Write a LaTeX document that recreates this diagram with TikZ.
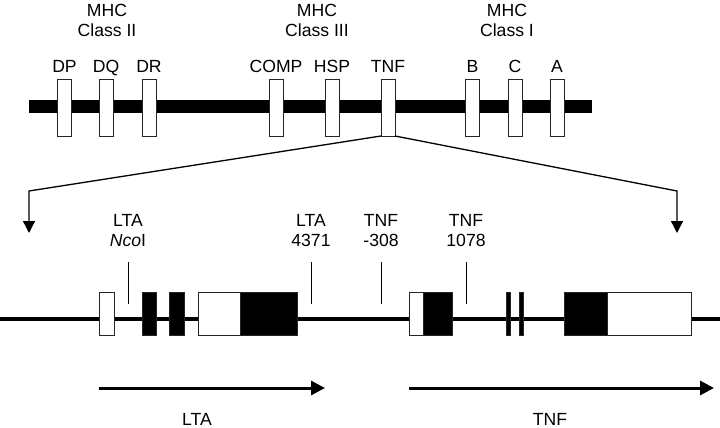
\documentclass[tikz,border=0pt]{standalone}
\usepackage{fontspec}
\setmainfont{Liberation Sans}
\usetikzlibrary{positioning,arrows.meta}
\tikzset{
	gen/.style={draw=black!85, line width=1pt, fill=white, minimum width=14pt, minimum height=57pt, inner sep=0pt, outer sep=0pt},
	txt/.style={font=\fontsize{17.6}{20}\selectfont, inner sep=0pt, align=center, text depth=0pt},
	exon/.style={draw=black!85, line width=1pt},
	marke/.style={line width=1pt},
}
\begin{document}
\begin{tikzpicture}[x=1pt,y=-1pt]
	\useasboundingbox (0,0) rectangle (720,428);
	% Klassen
	\node [txt, anchor=south] (kl2) at (107,36.5) {MHC\\Class II};
	\node [txt, anchor=south] (kl3) at (317,36.5) {MHC\\Class III};
	\node [txt, anchor=south] (kl1) at (507,36.5) {MHC\\Class I};
	% Chromosom
	\draw [line width=13pt] (29,106.5) -- (592,106.5);
	% Gene
	\foreach \n/\x/\t in {dp/64.5/DP, dq/106/DQ, dr/149/DR, comp/276/COMP, hsp/332/HSP, tnf/388/TNF, b/472.5/B, c/515/C, a/557/A} {
		\node [gen] (\n) at (\x,107.5) {};
		\node [txt, above=6.5pt of \n] (\n-l) {\t};
	}
	% Vergroesserung
	\coordinate (eckl) at (29,191);
	\coordinate (eckr) at (677,191);
	\coordinate (ziell) at (29,233);
	\coordinate (zielr) at (677,233);
	\draw [line width=1.3pt, -{Triangle[length=12pt,width=12pt]}] (tnf.south west) -- (eckl) -- (ziell);
	\draw [line width=1.3pt, -{Triangle[length=12pt,width=12pt]}] (tnf.south east) -- (eckr) -- (zielr);
	% Markierungen
	\foreach \n/\x/\t in {nco/128/{LTA\\\textit{Nco}I}, lta/311/{LTA\\4371}, tnfa/381/{TNF\\-308}, tnfb/466/{TNF\\1078}} {
		\coordinate (\n-o) at (\x,262);
		\coordinate (\n-u) at (\x,304);
		\draw [marke] (\n-o) -- (\n-u);
		\node [txt, above=15.5pt of \n-o] (\n-l) {\t};
	}
	% DNA
	\draw [line width=4pt] (0,319) -- (720,319);
	% Exons LTA
	\draw [exon, fill=white] (99,292) rectangle (114,335);
	\draw [exon, fill=black] (142,292) rectangle (156,335);
	\draw [exon, fill=black] (169,292) rectangle (184,335);
	\draw [exon, fill=white] (198,292) rectangle (240,335);
	\draw [exon, fill=black] (240,292) rectangle (297,335);
	% Exons TNF
	\draw [exon, fill=white] (409,292) rectangle (423,335);
	\draw [exon, fill=black] (423,292) rectangle (452,335);
	\draw [exon, fill=black] (506,292) rectangle (510,335);
	\draw [exon, fill=black] (519,292) rectangle (523,335);
	\draw [exon, fill=black] (564,292) rectangle (607,335);
	\draw [exon, fill=white] (607,292) rectangle (691,335);
	% Leserichtung
	\coordinate (lta-s) at (99,388);
	\coordinate (lta-e) at (325,388);
	\coordinate (tnf-s) at (409,388);
	\coordinate (tnf-e) at (714,388);
	\draw [line width=3pt, -{Triangle[length=14pt,width=14pt]}] (lta-s) -- (lta-e);
	\draw [line width=3pt, -{Triangle[length=14pt,width=14pt]}] (tnf-s) -- (tnf-e);
	\node [txt, anchor=south] (lta-t) at (197,425.5) {LTA};
	\node [txt, anchor=south] (tnf-t) at (550,425.5) {TNF};
\end{tikzpicture}
\end{document}
